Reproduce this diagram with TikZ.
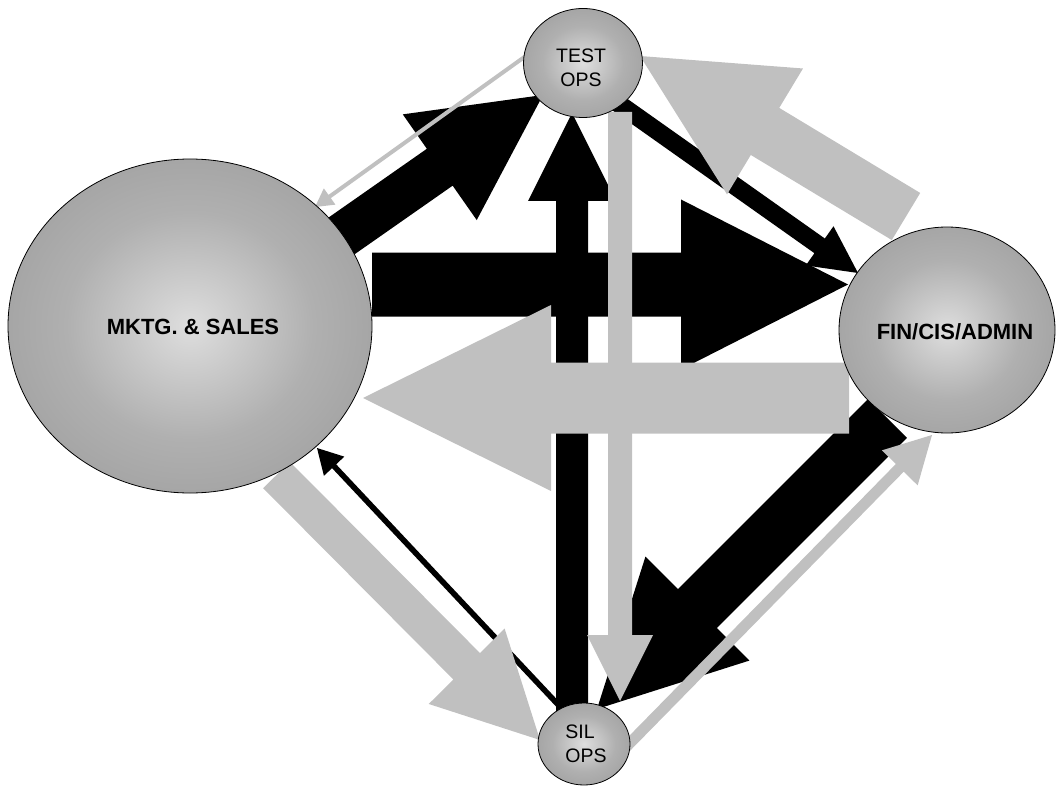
\documentclass[tikz,border=0pt]{standalone}
\usepackage{fontspec}
\setmainfont{Liberation Sans}
\usetikzlibrary{calc,shapes.geometric}

\definecolor{flowgray}{RGB}{192,192,192}
% soft sphere-like fill for the department bubbles
\pgfdeclareradialshading{ballshade}{\pgfpoint{0bp}{0bp}}{%
  rgb(0bp)=(0.87,0.87,0.87); rgb(17bp)=(0.69,0.69,0.69);
  rgb(25bp)=(0.65,0.65,0.65); rgb(50bp)=(0.65,0.65,0.65)}

% block arrow: style, tail, tip, body half-width, head half-width, head length
\newcommand{\flowarrow}[6]{%
  \path ($(#3)!#6pt!(#2)$) coordinate (fa-base);
  \fill[#1] ($(#2)!#4pt!90:(#3)$) -- ($(fa-base)!#4pt!-90:(#2)$)
    -- ($(fa-base)!#5pt!-90:(#2)$) -- (#3) -- ($(fa-base)!#5pt!90:(#2)$)
    -- ($(fa-base)!#4pt!90:(#2)$) -- ($(#2)!#4pt!-90:(#3)$) -- cycle;
}

\tikzset{
  unit/.style={ellipse, draw=black, line width=0.8pt, shading=ballshade, inner sep=0pt},
  bigname/.style={font=\bfseries\fontsize{22}{26}\selectfont},
  smallname/.style={font=\fontsize{19.5}{24}\selectfont},
  darkflow/.style={fill=black},
  lightflow/.style={fill=flowgray},
}

\begin{document}
\begin{tikzpicture}[x=1pt,y=-1pt]
\useasboundingbox (0,0) rectangle (1056,786);

% arrow end points
\coordinate (mf-t) at (372,284.5);   \coordinate (mf-h) at (848,284.5);
\coordinate (st-t) at (572,712);     \coordinate (st-h) at (572,113);
\coordinate (mt-t) at (340,237);     \coordinate (mt-h) at (543,95);
\coordinate (tf-t) at (612,99);      \coordinate (tf-h) at (858,273);
\coordinate (fs-t) at (887.5,418.5); \coordinate (fs-h) at (597,709);
\coordinate (sm-t) at (565,712);     \coordinate (sm-h) at (317,448);
\coordinate (tm-t) at (530,53);      \coordinate (tm-h) at (315,207);
\coordinate (ft-t) at (906,216.5);   \coordinate (ft-h) at (640,56);
\coordinate (ts-t) at (620,112);     \coordinate (ts-h) at (620,701);
\coordinate (sf-t) at (626,747);     \coordinate (sf-h) at (932,435);
\coordinate (ms-t) at (276.5,475);   \coordinate (ms-h) at (540,740);
\coordinate (fm-t) at (849,398);     \coordinate (fm-h) at (363,398);

% dark flows
\flowarrow{darkflow}{mf-t}{mf-h}{32}{85}{167}
\flowarrow{darkflow}{st-t}{st-h}{16}{44}{88}
\flowarrow{darkflow}{mt-t}{mt-h}{22.5}{64.5}{126}
\flowarrow{darkflow}{tf-t}{tf-h}{9}{24}{47}
\flowarrow{darkflow}{fs-t}{fs-h}{27.5}{73.5}{142}
\flowarrow{darkflow}{sm-t}{sm-h}{2.8}{14}{25}

% light flows
\flowarrow{lightflow}{tm-t}{tm-h}{2}{10}{18}
\flowarrow{lightflow}{ft-t}{ft-h}{27.5}{73.5}{146}
\flowarrow{lightflow}{ts-t}{ts-h}{12}{33}{66}
\flowarrow{lightflow}{sf-t}{sf-h}{5.5}{25}{46}
\flowarrow{lightflow}{ms-t}{ms-h}{18.75}{53.5}{104}
\flowarrow{lightflow}{fm-t}{fm-h}{35.5}{93}{188}

% departments
\node[unit, minimum width=364pt, minimum height=334pt,
      label={[bigname, xshift=3pt, yshift=-1pt]center:MKTG.\ \&\ SALES}] (mktg) at (190,326) {};
\node[unit, minimum width=119pt, minimum height=109pt,
      label={[smallname, align=center, xshift=-2pt, yshift=-4.5pt]center:TEST\\OPS}] (test) at (583,63) {};
\node[unit, minimum width=216pt, minimum height=206pt,
      label={[bigname, xshift=8pt, yshift=-2pt]center:FIN/CIS/ADMIN}] (fin) at (947,330) {};
\node[unit, minimum width=92pt, minimum height=82pt,
      label={[smallname, align=left, xshift=2pt]center:SIL\\OPS}] (sil) at (584,744) {};
\end{tikzpicture}
\end{document}
